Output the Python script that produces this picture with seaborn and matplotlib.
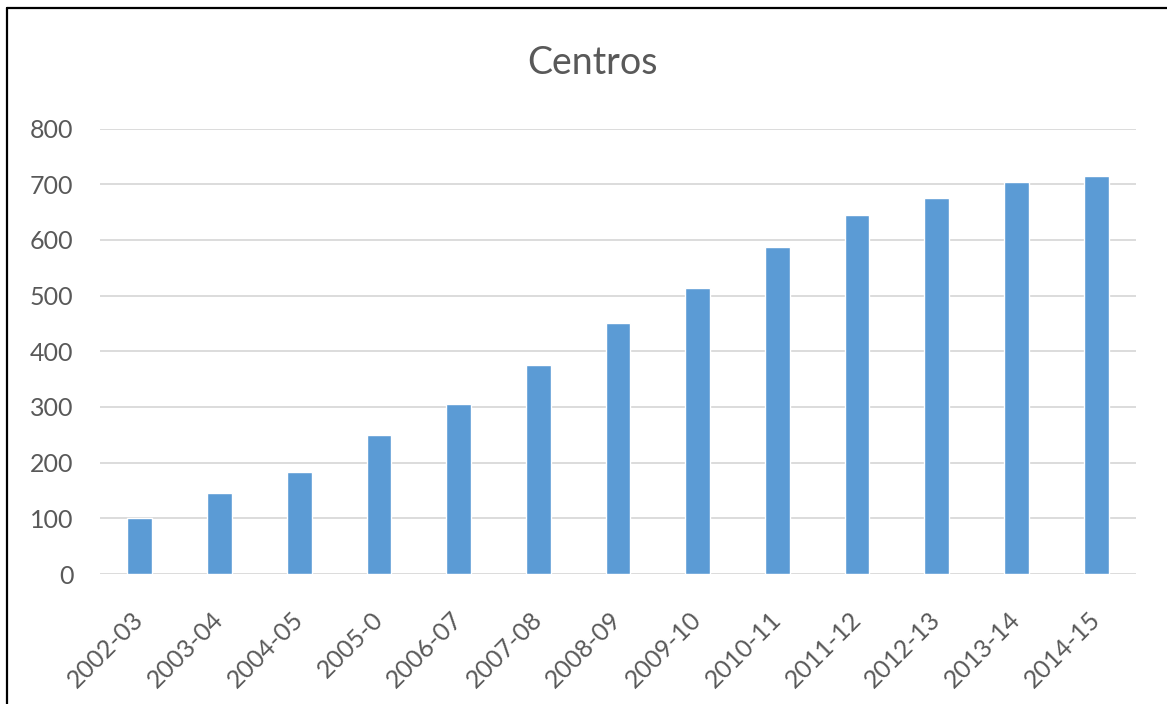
import matplotlib
matplotlib.use("Agg")
from matplotlib import pyplot as plt
from matplotlib.lines import Line2D
import pandas as pd
import seaborn as sns

# data
cursos = ['2002-03', '2003-04', '2004-05', '2005-0', '2006-07', '2007-08', '2008-09',
          '2009-10', '2010-11', '2011-12', '2012-13', '2013-14', '2014-15']
centros = [101, 146, 184, 249, 305, 375, 450, 514, 587, 645, 676, 704, 715]
y_ticks = [0, 100, 200, 300, 400, 500, 600, 700, 800]

df = pd.DataFrame({'curso': cursos, 'centros': centros})

sns.set_theme(style='white')
plt.rcParams['font.family'] = ['Lato', 'DejaVu Sans']

text_color = '#595959'
grid_color = '#D9D9D9'

fig = plt.figure(figsize=(11.67, 7.04), dpi=100)
ax = fig.add_axes([100 / 1167, 1 - 574 / 704, 1036 / 1167, (574 - 128.5) / 704])

sns.barplot(data=df, x='curso', y='centros', color='#5B9BD5', width=0.31,
            saturation=1, ax=ax, zorder=2)

ax.set_ylim(0, 800)
ax.set_xlim(-0.5, len(cursos) - 0.5)
ax.set_yticks(y_ticks)
ax.set_yticklabels([str(t) for t in y_ticks])
ax.yaxis.grid(True, color=grid_color, linewidth=1.3)
ax.set_axisbelow(True)
for s in ax.spines.values():
    s.set_visible(False)

ax.set_xlabel('')
ax.set_ylabel('')
ax.tick_params(axis='y', length=0, pad=19, labelsize=18, labelcolor=text_color)
ax.tick_params(axis='x', length=0, pad=30, labelsize=18, labelcolor=text_color)
for lbl in ax.get_xticklabels():
    lbl.set_rotation(45)
    lbl.set_ha('right')
    lbl.set_va('center')
    lbl.set_rotation_mode('anchor')

fig.text(592 / 1167, 1 - 63 / 704, 'Centros', ha='center', va='center',
         fontsize=27, color=text_color)

# black frame on top and left edges
fig.add_artist(Line2D([7 / 1167, 7 / 1167], [0, 1 - 8 / 704], transform=fig.transFigure,
                      color='black', linewidth=1.6))
fig.add_artist(Line2D([7 / 1167, 1], [1 - 8 / 704, 1 - 8 / 704], transform=fig.transFigure,
                      color='black', linewidth=1.6))

fig.savefig('out.png', dpi=100)
